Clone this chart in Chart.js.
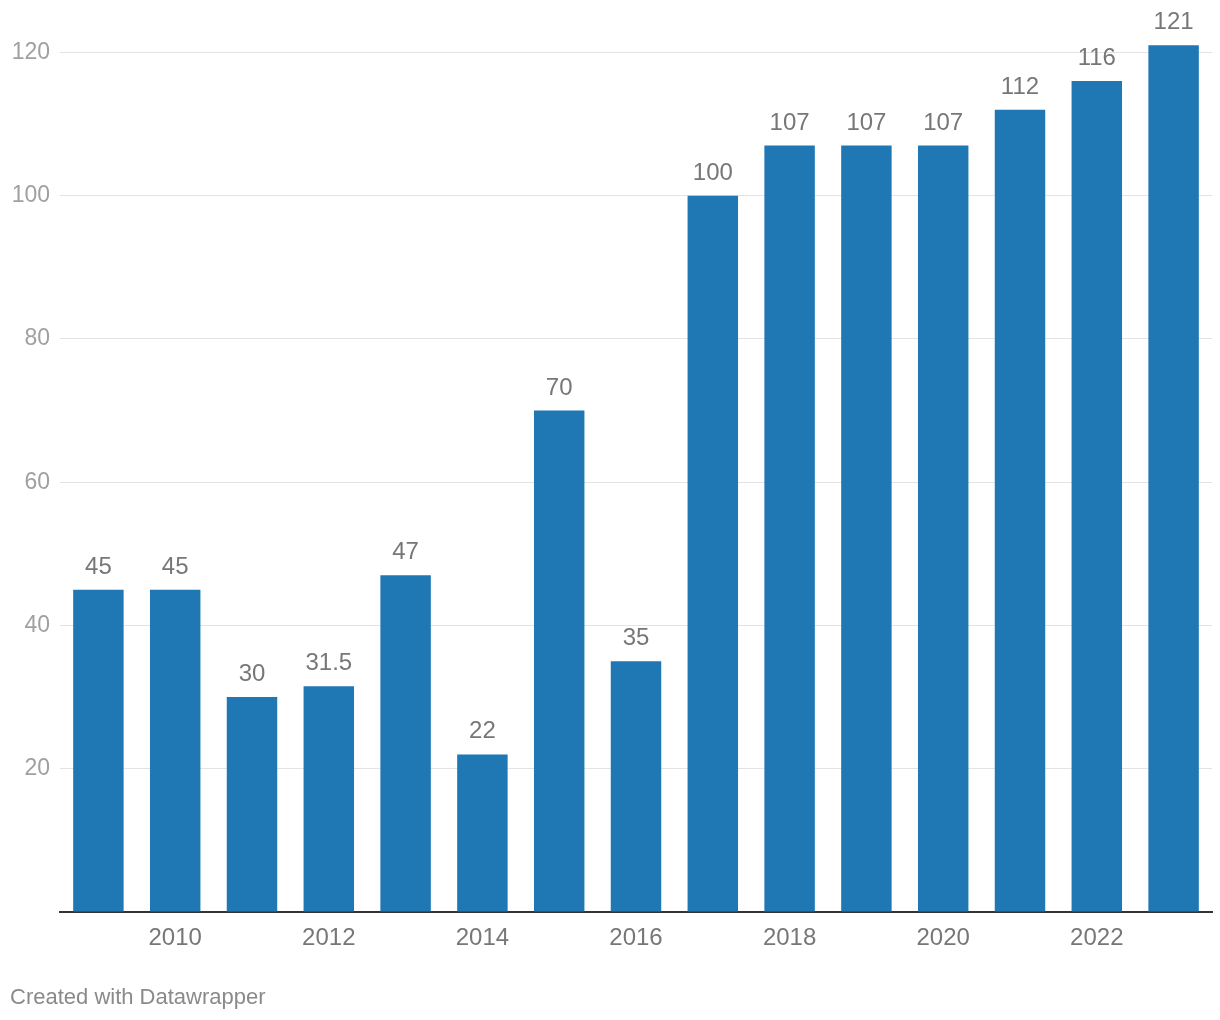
<!DOCTYPE html>
<html>
<head>
<meta charset="utf-8">
<script src="https://cdn.jsdelivr.net/npm/chart.js@4/dist/chart.umd.min.js"></script>
<style>
	body { margin: 0; background: #fff; font-family: 'Liberation Sans', Arial, sans-serif; }
	#wrap { position: absolute; left: 0; top: 0; width: 1220px; height: 1020px; }
	#credit { position: absolute; left: 10px; top: 984px; font-size: 22px; color: #8a8a8a; }
</style>
</head>
<body>
<div id="wrap"><canvas id="myChart"></canvas></div>
<div id="credit">Created with Datawrapper</div>
<script>
const years = ['2009', '2010', '2011', '2012', '2013', '2014', '2015', '2016', '2017', '2018', '2019', '2020', '2021', '2022', '2023']
const values = [45, 45, 30, 31.5, 47, 22, 70, 35, 100, 107, 107, 107, 112, 116, 121]
const yTicks = [20, 40, 60, 80, 100, 120]
const shownYears = ['2010', '2012', '2014', '2016', '2018', '2020', '2022']

const valueLabels = {
	id: 'valueLabels',
	afterDatasetsDraw(chart) {
		const ctx = chart.ctx
		const meta = chart.getDatasetMeta(0)
		ctx.save()
		ctx.font = '24px "Liberation Sans", Arial, sans-serif'
		ctx.fillStyle = '#777777'
		ctx.textAlign = 'center'
		ctx.textBaseline = 'alphabetic'
		meta.data.forEach((bar, i) => {
			ctx.fillText(String(values[i]), bar.x, bar.y - 16)
		})
		ctx.restore()
	},
}

const chart = document.getElementById('myChart')
new Chart(chart, {
	type: 'bar',
	data: {
		labels: years,
		datasets: [
			{
				data: values,
				backgroundColor: '#1f77b4',
				barPercentage: 0.657,
				categoryPercentage: 1,
			},
		],
	},
	options: {
		responsive: true,
		maintainAspectRatio: false,
		animation: false,
		layout: {
			padding: { top: 0, right: 8, left: 0, bottom: 0 },
		},
		scales: {
			x: {
				grid: { display: false, drawTicks: false },
				border: { color: '#333333', width: 2 },
				ticks: {
					autoSkip: false,
					maxRotation: 0,
					padding: 12,
					color: '#777777',
					font: { family: '"Liberation Sans", Arial, sans-serif', size: 24 },
					callback: (v, i) => (shownYears.includes(years[i]) ? years[i] : ''),
				},
				afterFit: (scale) => {
					scale.height = 108
				},
			},
			y: {
				min: 0,
				max: 124,
				afterBuildTicks: (scale) => {
					scale.ticks = [0, ...yTicks].map((v) => ({ value: v }))
				},
				grid: {
					color: (c) => (c.tick.value === 0 ? 'rgba(0,0,0,0)' : '#e3e3e3'),
					lineWidth: 1,
					drawTicks: false,
				},
				border: { display: false },
				ticks: {
					padding: 10,
					color: '#a0a0a0',
					font: { family: '"Liberation Sans", Arial, sans-serif', size: 23 },
					callback: (v) => (v === 0 ? '' : v),
				},
				afterFit: (scale) => {
					scale.width = 60
				},
			},
		},
		plugins: {
			legend: { display: false },
			tooltip: { enabled: false },
		},
	},
	plugins: [valueLabels],
})
</script>
</body>
</html>
